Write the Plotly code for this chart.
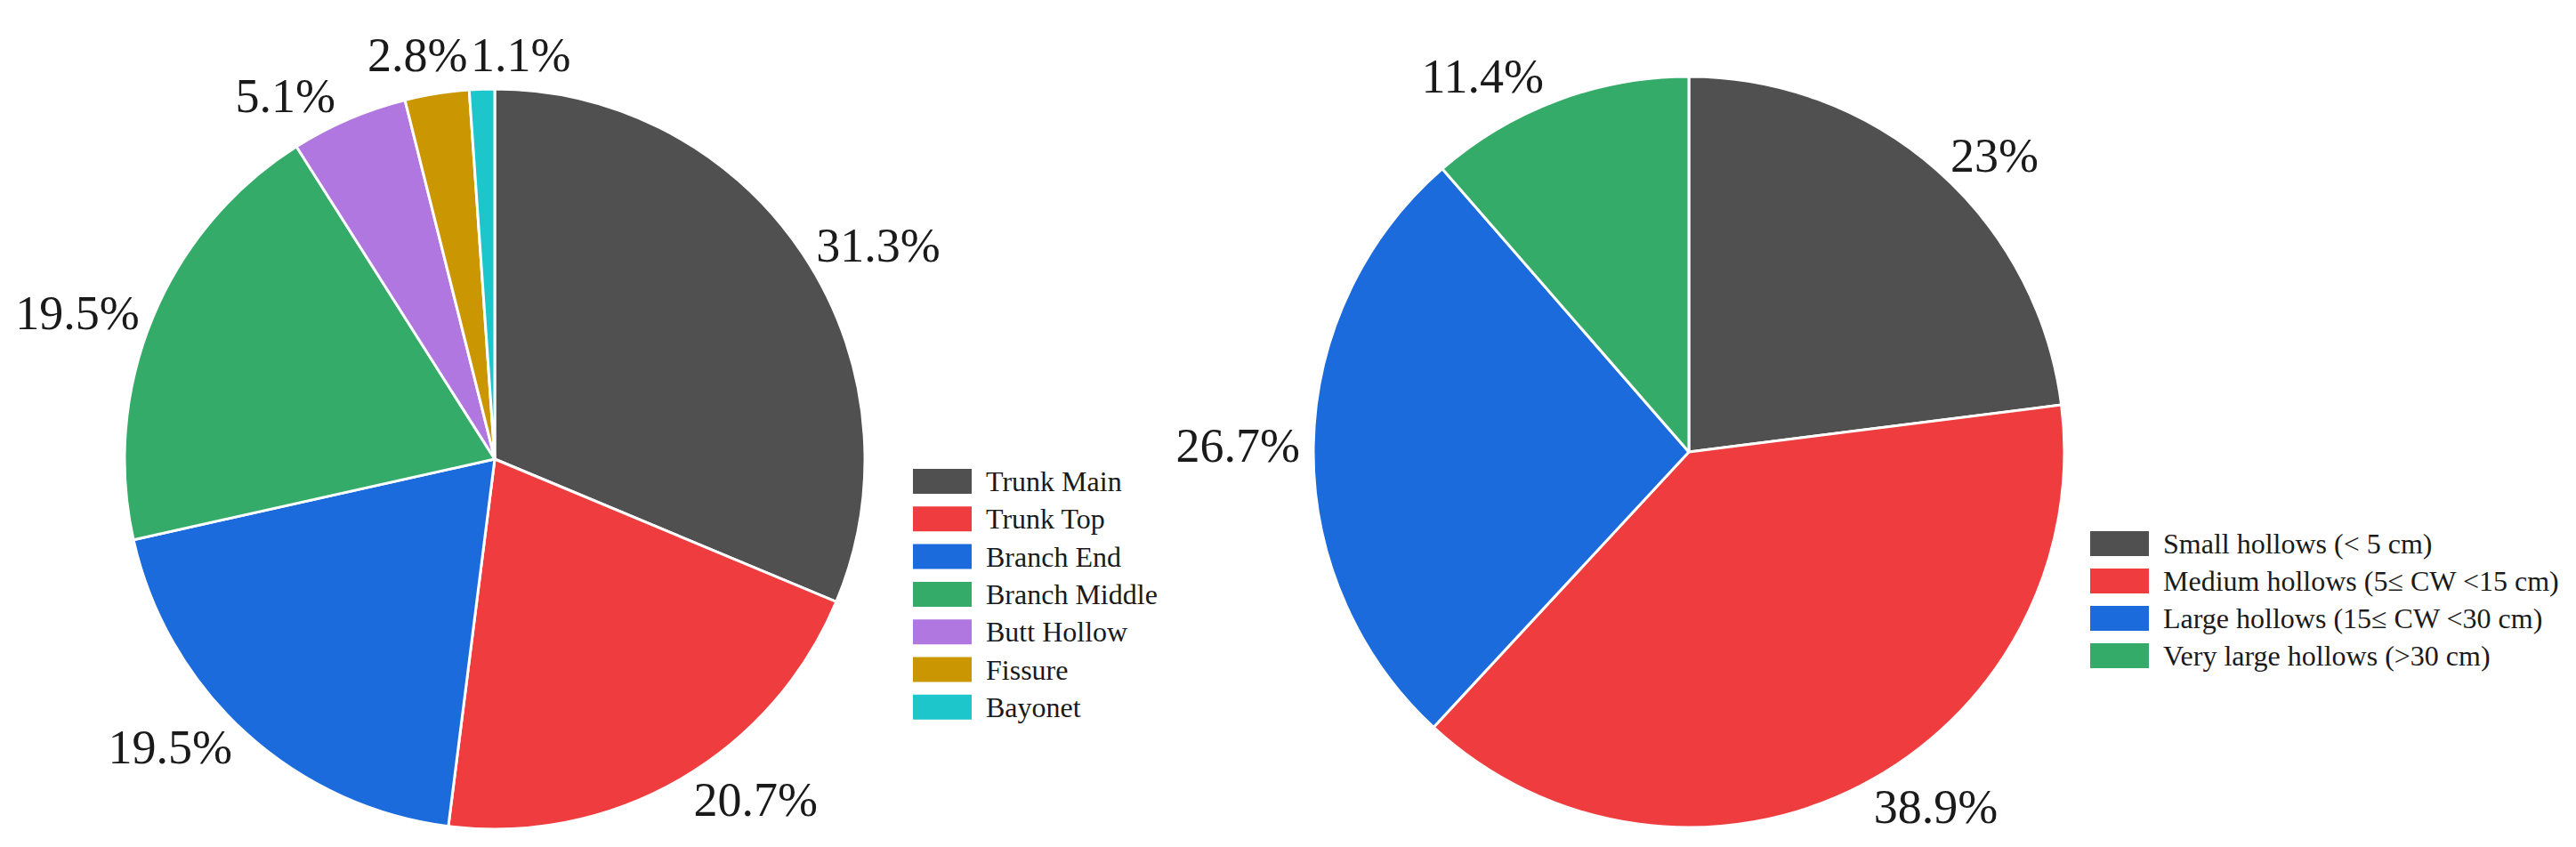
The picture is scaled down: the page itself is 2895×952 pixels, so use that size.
import math
import plotly.graph_objects as go

# Hollow position (left pie)
position_labels = ['Trunk Main', 'Trunk Top', 'Branch End', 'Branch Middle',
                   'Butt Hollow', 'Fissure', 'Bayonet']
position_values = [31.3, 20.7, 19.5, 19.5, 5.1, 2.8, 1.1]
position_colors = ['#505050', '#EF3D3F', '#1B6BDD', '#34AB68',
                   '#AF77DF', '#CA9702', '#1CC6CA']

# Hollow size (right pie)
size_labels = ['Small hollows (< 5 cm)', 'Medium hollows (5≤ CW <15 cm)',
               'Large hollows (15≤ CW <30 cm)', 'Very large hollows (>30 cm)']
size_values = [23, 38.9, 26.7, 11.4]
size_colors = ['#505050', '#EF3D3F', '#1B6BDD', '#34AB68']

W, H = 2895, 952
FONT = 'Liberation Serif, Times New Roman, serif'
LABEL_FONT = dict(family=FONT, size=54, color='#1a1a1a')
SMALL = 3  # slices below this get their label set by hand, side by side on top

LEFT = (548, 508, 416)
RIGHT = (1890, 500, 422)


def fx(x):
    return x / W


def fy(y):
    return 1 - y / H


def domain(cx, cy, r):
    return dict(x=[fx(cx - r), fx(cx + r)], y=[fy(cy + r), fy(cy - r)])


def pct(v):
    return f'{v:g}%'


fig = go.Figure()

fig.add_trace(go.Pie(
    labels=position_labels, values=position_values,
    text=[pct(v) if v >= SMALL else '' for v in position_values], textinfo='text',
    textposition='outside', sort=False, direction='clockwise', rotation=0,
    marker=dict(colors=position_colors, line=dict(color='white', width=3)),
    outsidetextfont=LABEL_FONT,
    domain=domain(*LEFT), showlegend=False, automargin=False,
    hoverinfo='label+percent',
))

fig.add_trace(go.Pie(
    labels=size_labels, values=size_values,
    text=[pct(v) for v in size_values], textinfo='text',
    textposition='outside', sort=False, direction='clockwise', rotation=0,
    marker=dict(colors=size_colors, line=dict(color='white', width=3)),
    outsidetextfont=LABEL_FONT,
    domain=domain(*RIGHT), showlegend=False, automargin=False,
    hoverinfo='label+percent',
))

# the two thin slices at the top: labels meet at the boundary between them
cx, cy, r = LEFT
total = sum(position_values)
small = [i for i, v in enumerate(position_values) if v < SMALL]
edge = sum(position_values[:small[-1]]) / total  # start of last small slice
bx = cx + (r + 10) * math.sin(2 * math.pi * edge)
for k, i in enumerate(small):
    fig.add_annotation(xref='paper', yref='paper', x=fx(bx), y=fy(cy - r - 6),
                       xanchor='right' if k < len(small) - 1 else 'left',
                       yanchor='bottom', showarrow=False,
                       text=pct(position_values[i]), font=LABEL_FONT)


def esc(s):
    return s.replace('<', '&lt;').replace('>', '&gt;')


# hand-made legends with wide swatches, like the original
def legend(labels, colors, sx, top, step, sw=66, sh=28):
    for i, (lab, col) in enumerate(zip(labels, colors)):
        y = top + i * step
        fig.add_shape(type='rect', xref='paper', yref='paper',
                      x0=fx(sx), x1=fx(sx + sw), y0=fy(y + sh / 2), y1=fy(y - sh / 2),
                      fillcolor=col, line=dict(width=0))
        fig.add_annotation(xref='paper', yref='paper', x=fx(sx + sw + 14), y=fy(y),
                           xanchor='left', yanchor='middle', showarrow=False,
                           text=esc(lab), font=dict(family=FONT, size=32, color='#1a1a1a'))


legend(position_labels, position_colors, 1018, 533, 42.3)
legend(size_labels, size_colors, 2341, 603, 42)

fig.update_layout(
    width=W, height=H,
    margin=dict(l=0, r=0, t=0, b=0, pad=0, autoexpand=False),
    paper_bgcolor='white', plot_bgcolor='white',
    font=dict(family=FONT),
    showlegend=False,
)

fig.write_html('out.html', config={'displayModeBar': False})
